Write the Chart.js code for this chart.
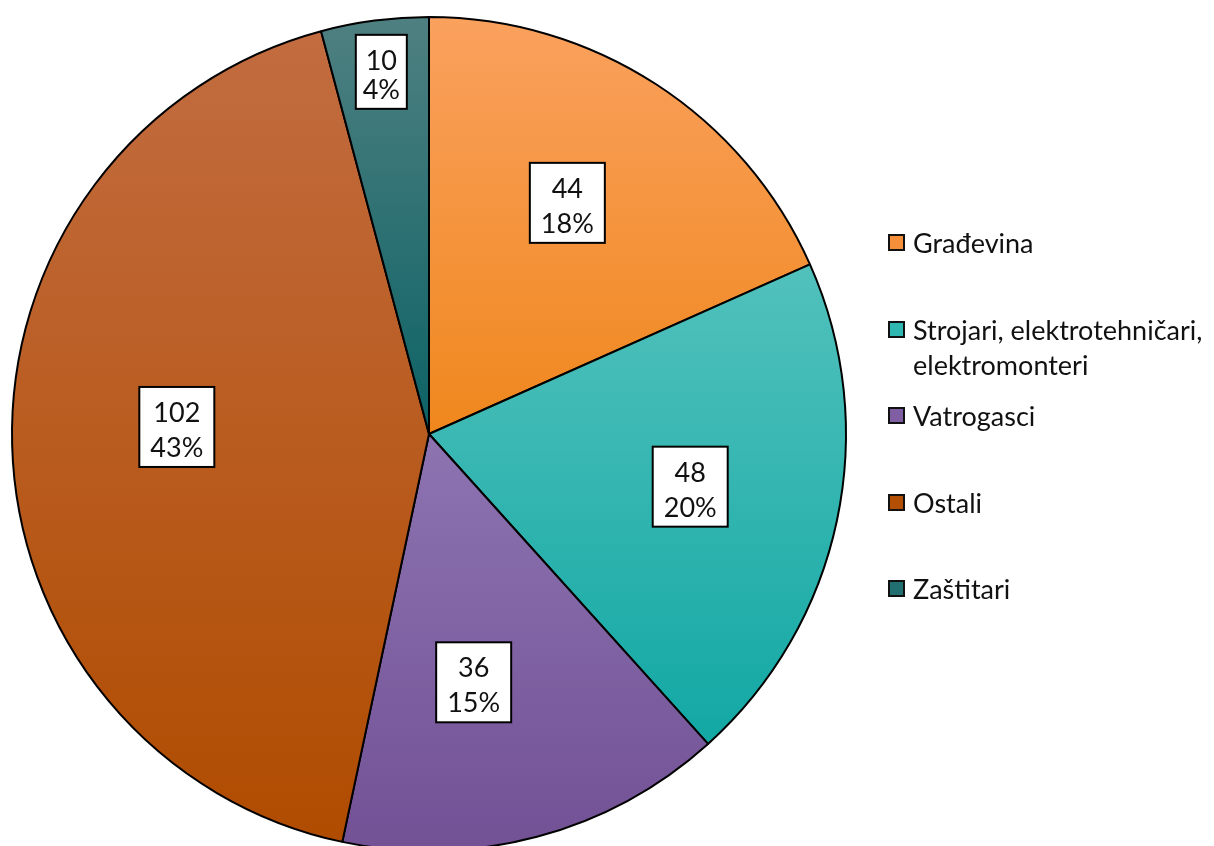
<!DOCTYPE html>
<html>
<head>
<meta charset="utf-8">
<script src="https://cdn.jsdelivr.net/npm/chart.js@4.4.1/dist/chart.umd.min.js"></script>
<style>
  html, body { margin: 0; padding: 0; background: #fff; overflow: hidden; }
  #wrap { position: relative; width: 1214px; height: 846px; overflow: hidden; }
  #box { position: absolute; left: 0; top: 0; width: 1214px; height: 852px; }
  #legend { position: absolute; left: 888px; top: 0; font-family: Lato, 'Open Sans', sans-serif; font-size: 27px; color: #111; }
  .li { position: absolute; left: 0; white-space: nowrap; line-height: 35px; }
  .sw { position: absolute; left: 0; top: 9px; width: 13px; height: 13px; border: 2px solid #111; }
  .tx { position: absolute; left: 25px; top: 0; }
</style>
</head>
<body>
<div id="wrap">
  <div id="box"><canvas id="c"></canvas></div>
  <div id="legend"></div>
</div>
<script>
// ---- data ----
const categories = ['Građevina', 'Strojari, elektrotehničari, elektromonteri', 'Vatrogasci', 'Ostali', 'Zaštitari'];
const legendLines = [['Građevina'], ['Strojari, elektrotehničari,', 'elektromonteri'], ['Vatrogasci'], ['Ostali'], ['Zaštitari']];
const values = [44, 48, 36, 102, 10];
const percentLabels = ['18%', '20%', '15%', '43%', '4%'];

// ---- style ----
const topColors = ['#faa15e', '#52c1bc', '#8d74b1', '#c26c40', '#4f8081'];
const bottomColors = ['#f0871d', '#12a8a4', '#725195', '#b04c00', '#0c6265'];
const solidColors = ['#f58f3a', '#2fb7b2', '#7f5ea4', '#b24f04', '#216f71'];
const labelRadius = [0.646, 0.639, 0.605, 0.605, 0.876];
const labelAngleOffsetDeg = [-2.1, -0.6, 4.8, 3.1, 0];

const gradientPlugin = {
  id: 'grad',
  beforeDatasetsDraw(chart) {
    const ctx = chart.ctx;
    const meta = chart.getDatasetMeta(0);
    meta.data.forEach((arc, i) => {
      const { x, y, startAngle, endAngle, outerRadius } = arc.getProps(['x', 'y', 'startAngle', 'endAngle', 'outerRadius'], true);
      let ys = [y, y + outerRadius * Math.sin(startAngle), y + outerRadius * Math.sin(endAngle)];
      const cands = [-Math.PI / 2, Math.PI / 2, 3 * Math.PI / 2, 5 * Math.PI / 2];
      cands.forEach(a => { if (a > startAngle && a < endAngle) ys.push(y + outerRadius * Math.sin(a)); });
      const y0 = Math.min(...ys), y1 = Math.max(...ys);
      const g = ctx.createLinearGradient(0, y0, 0, y1);
      g.addColorStop(0, topColors[i]);
      g.addColorStop(1, bottomColors[i]);
      arc.options.backgroundColor = g;
    });
  }
};

const labelPlugin = {
  id: 'boxlabels',
  afterDatasetsDraw(chart) {
    const ctx = chart.ctx;
    const meta = chart.getDatasetMeta(0);
    ctx.save();
    ctx.font = '27px Lato, "Open Sans", sans-serif';
    ctx.textAlign = 'center';
    ctx.textBaseline = 'alphabetic';
    meta.data.forEach((arc, i) => {
      const { x, y, startAngle, endAngle, outerRadius } = arc.getProps(['x', 'y', 'startAngle', 'endAngle', 'outerRadius'], true);
      const mid = (startAngle + endAngle) / 2 + labelAngleOffsetDeg[i] * Math.PI / 180;
      const r = outerRadius * labelRadius[i];
      const cx = x + r * Math.cos(mid);
      const cy = y + r * Math.sin(mid);
      const lines = [String(values[i]), percentLabels[i]];
      const tw = Math.max(...lines.map(l => ctx.measureText(l).width));
      const padX = i === 4 ? 7 : 11;
      const w = Math.round(tw + padX * 2);
      const h = i === 4 ? 74 : 80;
      const off = i === 4 ? 3 : 0;
      ctx.fillStyle = '#fff';
      ctx.fillRect(cx - w / 2, cy - h / 2, w, h);
      ctx.lineWidth = 2;
      ctx.strokeStyle = '#000';
      ctx.strokeRect(cx - w / 2, cy - h / 2, w, h);
      ctx.fillStyle = '#111';
      ctx.fillText(lines[0], cx, cy - 5 + off);
      ctx.fillText(lines[1], cx, cy + 30 - off);
    });
    ctx.restore();
  }
};

new Chart(document.getElementById('c'), {
  type: 'pie',
  data: {
    labels: categories,
    datasets: [{
      data: values,
      backgroundColor: solidColors,
      borderColor: '#000',
      borderWidth: 2
    }]
  },
  options: {
    responsive: true,
    maintainAspectRatio: false,
    animation: false,
    layout: { padding: { left: 11, top: 16, right: 367, bottom: 0 } },
    plugins: { legend: { display: false }, tooltip: { enabled: false } }
  },
  plugins: [gradientPlugin, labelPlugin]
});

// HTML legend
const leg = document.getElementById('legend');
const itemTops = [242, 329, 415, 502, 588];
legendLines.forEach((lines, i) => {
  const d = document.createElement('div');
  d.className = 'li';
  d.style.top = (itemTops[i] - 17.5) + 'px';
  const sw = document.createElement('div');
  sw.className = 'sw';
  sw.style.background = solidColors[i];
  const t = document.createElement('div');
  t.className = 'tx';
  t.innerHTML = lines.join('<br>');
  d.appendChild(sw); d.appendChild(t);
  leg.appendChild(d);
});
</script>
</body>
</html>
